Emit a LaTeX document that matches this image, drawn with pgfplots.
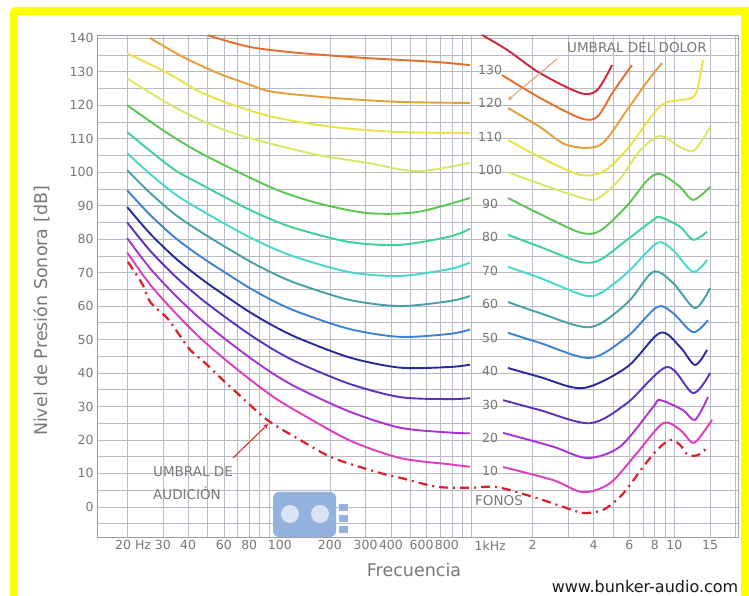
\documentclass[border=0pt]{standalone}
\usepackage{fontspec}
\setmainfont{DejaVu Sans}
\usepackage{pgfplots}
\pgfplotsset{compat=1.18}
\definecolor{cA}{RGB}{210,35,60}
\definecolor{cB}{RGB}{230,110,40}
\definecolor{cC}{RGB}{228,158,58}
\definecolor{cD}{RGB}{232,228,70}
\definecolor{cE}{RGB}{212,234,100}
\definecolor{cF}{RGB}{90,200,80}
\definecolor{cG}{RGB}{60,210,150}
\definecolor{cH}{RGB}{70,215,205}
\definecolor{cI}{RGB}{70,160,165}
\definecolor{cJ}{RGB}{60,130,210}
\definecolor{cK}{RGB}{40,40,160}
\definecolor{cL}{RGB}{90,50,190}
\definecolor{cM}{RGB}{170,50,210}
\definecolor{cN}{RGB}{225,60,190}
\definecolor{thr}{RGB}{220,30,40}
\definecolor{gridc}{RGB}{185,185,200}
\definecolor{txtgray}{RGB}{120,120,120}
\definecolor{logoblue}{RGB}{148,178,222}
\definecolor{frameyellow}{RGB}{255,255,0}
\begin{document}
\begin{tikzpicture}
\useasboundingbox (0,0) rectangle (749pt,596pt);
\fill[white] (0,0) rectangle (749pt,596pt);
\begin{scope}[x=1pt,y=-1pt,shift={(0pt,596pt)}]
\fill[frameyellow] (10,596) -- (10,12) arc[start angle=180,end angle=90,radius=5pt] -- (749,7) -- (749,596) -- (741,596) -- (741,15) -- (17,15) -- (17,596) -- cycle;
\end{scope}
\begin{axis}[
  at={(97pt,59pt)}, anchor=south west, scale only axis,
  width=641pt, height=502pt,
  xmode=log, xmin=14.2, xmax=20600, ymin=-9, ymax=141,
  xtick={20,30,40,60,80,100,200,300,400,600,800,1000,2000,4000,6000,8000,10000,15000},
  xticklabels={\makebox[0pt][l]{\kern-12pt 20 Hz},30,40,60,80,\makebox[0pt][l]{\kern-1pt 100},200,300,400,\makebox[0pt][l]{\kern-17pt 600},\makebox[0pt][l]{\kern-17pt 800},\makebox[0pt][l]{\kern3pt 1kHz},2,4,6,8,10,15},
  minor xtick={20,30,40,50,60,70,80,90,100,200,300,400,500,600,700,800,900,1000,2000,3000,4000,5000,6000,7000,8000,9000,10000,15000,20000},
  ytick={0,10,...,140},
  minor ytick={-5,5,...,135},
  grid=both,
  major grid style={color=gridc, line width=0.7pt},
  minor grid style={color=gridc, line width=0.7pt},
  major tick length=0pt, minor tick length=0pt,
  axis line style={color=gridc!85!black, line width=0.8pt},
  /pgf/number format/assume math mode=true,
  ticklabel style={font=\fontsize{12.5}{12.5}\selectfont, text=txtgray},
  every axis plot/.append style={line width=1.9pt, smooth, no markers},
]
% ---------- left section (20 Hz - 1 kHz) ----------
\addplot[cB] coordinates {(50.1,140.9) (80.9,137.4) (142.6,135.6) (305,134.1) (645,133) (982,132)};
\addplot[cC] coordinates {(25.9,140.1) (37.8,134.4) (55.6,129.7) (80.9,126.1) (105,124) (207.5,122.2) (444,121) (982,120.7)};
\addplot[cD] coordinates {(20,135.5) (31.5,129.7) (45.8,124) (66.6,120.1) (105,116.5) (207.5,113.5) (444,112) (982,111.7)};
\addplot[cE] coordinates {(20,128) (31.5,120.7) (45.8,115.6) (66.6,111.7) (98,108.8) (173,105.2) (305,102.8) (538,100.3) (982,102.8)};
\addplot[cF] coordinates {(20,120) (31.5,111.7) (45.8,105.8) (72.1,99.8) (109.8,94.7) (173,90.8) (305,87.8) (538,88.1) (982,92.3)};
\addplot[cG] coordinates {(20,112) (25.9,106.4) (34.5,100.6) (45.8,96.5) (60.9,92.5) (80.9,88.7) (107.4,85.4) (142.6,82.8) (251.6,79.1) (444,78.3) (783,80.8) (982,83.1)};
\addplot[cH] coordinates {(20,105.7) (25.9,99.5) (34.5,93.4) (45.8,88.8) (60.9,84.5) (80.9,80.5) (107.4,77) (142.6,74.2) (251.6,70.1) (444,69) (783,71.1) (982,73)};
\addplot[cI] coordinates {(20,100.6) (25.9,93.85) (34.5,87.35) (45.8,82.3) (60.9,77.7) (80.9,73.3) (107.4,69.5) (142.6,66.4) (251.6,61.8) (444,60) (783,61.5) (982,63)};
\addplot[cJ] coordinates {(20,94.6) (25.9,87.3) (34.5,80.4) (45.8,74.9) (60.9,70) (80.9,65.3) (107.4,61.25) (142.6,58) (251.6,53.1) (444,50.8) (783,51.7) (982,53)};
\addplot[cK] coordinates {(20,89.6) (25.9,81.7) (34.5,74.4) (45.8,68.4) (60.9,63.1) (80.9,58.1) (107.4,53.8) (142.6,50.2) (251.6,44.6) (444,41.6) (783,41.8) (982,42.5)};
\addplot[cL] coordinates {(20,85) (25.9,76.6) (34.5,68.9) (45.8,62.4) (60.9,56.7) (80.9,51.4) (107.4,46.7) (142.6,42.8) (251.6,36.7) (444,32.8) (783,32.2) (982,32.5)};
\addplot[cM] coordinates {(20,80.3) (25.9,71.35) (34.5,63.25) (45.8,56.25) (60.9,50.15) (80.9,44.5) (107.4,39.4) (142.6,35.2) (251.6,28.4) (444,23.65) (783,22.2) (982,22)};
\addplot[cN] coordinates {(20,76) (25.9,66.5) (34.5,58) (45.8,50.5) (60.9,44) (80.9,38) (107.4,32.5) (142.6,28) (251.6,19.8) (444,14.6) (783,12.7) (982,12)};
% ---------- right section (1.4 kHz - 15 kHz) ----------
\addplot[cA] coordinates {(1125,141) (1500,136.5) (2174,129.6) (3425,123.7) (4156,124.5) (4928,132)};
\addplot[cB] coordinates {(1413,129) (2174,122.2) (3425,116.2) (4156,116.5) (4983,124) (6181,132)};
\addplot[cC] coordinates {(1512,119.2) (2174,113.5) (2957,108.1) (4298,108.1) (5842,118.6) (7330,127) (8690,132.6)};
\addplot[cD] coordinates {(1512,109.6) (2174,104.5) (3425,99.2) (4553,100.5) (6044,107.9) (7585,116.2) (9000,120.7) (11940,122) (12930,124.5) (13840,133.5)};
\addplot[cE] coordinates {(1512,100) (2174,96.5) (3425,92.5) (4156,92) (5396,98) (6774,106.5) (8500,110.8) (10670,107.5) (12360,106.3) (13840,110) (15000,113.5)};
\addplot[cF] coordinates {(1512,92.3) (2174,87.5) (3425,82) (4298,82.5) (5842,90) (7330,97.5) (8500,99.5) (10670,95.6) (12360,91.7) (15000,95.6)};
\addplot[cG] coordinates {(1512,81.3) (2174,77.7) (3425,73.2) (4298,73.8) (5842,79.8) (7850,85.7) (8500,86.6) (10670,83.7) (12360,79.8) (14490,82.2)};
\addplot[cH] coordinates {(1512,71.7) (2174,68.4) (3545,63.3) (4298,63.8) (5842,69.9) (8210,78.8) (9850,76.7) (12360,70.2) (14490,73.8)};
\addplot[cI] coordinates {(1512,61.2) (2174,57.9) (3838,53.7) (5842,60.9) (7850,70.2) (9850,66.9) (12640,59.4) (15000,65.4)};
\addplot[cJ] coordinates {(1512,52) (2174,49) (3838,44.5) (5842,50.8) (8210,59.7) (9850,57.9) (12360,52.2) (14650,55.8)};
\addplot[cK] coordinates {(1512,41.5) (2174,38.8) (3545,35.5) (5842,41.8) (8500,52) (10670,47.8) (12640,42.4) (14490,46.9)};
\addplot[cL] coordinates {(1430,31.9) (2174,28.9) (3838,25) (5842,31) (9200,41.8) (12360,34) (15000,40)};
\addplot[cM] coordinates {(1430,22.1) (2521,18) (3710,14.6) (5396,18) (7850,29.8) (8500,31.9) (11030,28.9) (12640,26) (14650,32.8)};
\addplot[cN] coordinates {(1430,11.9) (2521,8) (3545,4.4) (4820,7.1) (6540,16.1) (8790,25) (10670,23) (12360,19.1) (13840,22.1) (15340,26)};
% ---------- threshold of hearing ----------
\addplot[thr, line width=2.2pt, dash pattern=on 9pt off 5pt on 2pt off 5pt] coordinates {(20.2,73.2) (21.4,70.8) (23.9,66.3) (26.0,61.2) (31.5,56.4) (35.6,52) (40.9,46.9) (48.5,43) (59.3,37.9) (69.8,34) (98,26) (142.6,20) (207.5,14.6) (355,10.1) (444,8.7) (675,6) (982,5.7) (1335,5.9) (2103,2.6) (2824,0) (3545,-1.8) (4449,-0.9) (5396,3) (6181,7.4) (7000,11.9) (8210,17) (9520,20) (10670,18.5) (11670,15.5) (13080,15.5) (14490,17.6)};
% ---------- contour labels ----------
\foreach \p in {10,20,...,130}{
  \edef\tmp{\noexpand\node[font=\noexpand\fontsize{12.5}{12.5}\noexpand\selectfont, text=txtgray, inner sep=0pt] at (axis cs:1233,\p.6) {\p};}
  \tmp
}
\end{axis}
\begin{scope}[x=1pt,y=-1pt,shift={(0pt,596pt)}]
% logo watermark
\fill[logoblue, rounded corners=6pt] (273,492) rectangle (336,537);
\fill[white!65!logoblue] (290,514) circle (9pt);
\fill[white!65!logoblue] (320,514) circle (9pt);
\fill[logoblue] (339,504) rectangle (348,511);
\fill[logoblue] (339,515) rectangle (348,522);
\fill[logoblue] (339,526) rectangle (348,533);
% axis titles
\node[font=\fontsize{17.5}{18}\selectfont, text=txtgray, rotate=90] at (42,311) {Nivel de Presión Sonora [dB]};
\node[font=\fontsize{17.5}{18}\selectfont, text=txtgray] at (414,570) {Frecuencia};
\node[font=\fontsize{16}{17}\selectfont, text=black!90] at (645,587) {www.bunker-audio.com};
% annotations
\node[font=\fontsize{13.5}{14}\selectfont, text=txtgray, anchor=west, inner sep=0pt] at (567,48) {UMBRAL DEL DOLOR};
\draw[color={rgb,255:red,215;green,160;blue,110}, line width=1pt, -stealth] (557,59) -- (508,100);
\node[font=\fontsize{13.5}{14}\selectfont, text=txtgray, anchor=west, inner sep=0pt] at (153,472) {UMBRAL DE};
\node[font=\fontsize{13.5}{14}\selectfont, text=txtgray, anchor=west, inner sep=0pt] at (153,493) {AUDICIÓN};
\draw[color=thr, line width=1pt, -stealth] (233,458) -- (268,424);
\node[font=\fontsize{13.5}{14}\selectfont, text=txtgray, inner sep=0pt] at (499,501) {FONOS};
\end{scope}
\end{tikzpicture}
\end{document}
